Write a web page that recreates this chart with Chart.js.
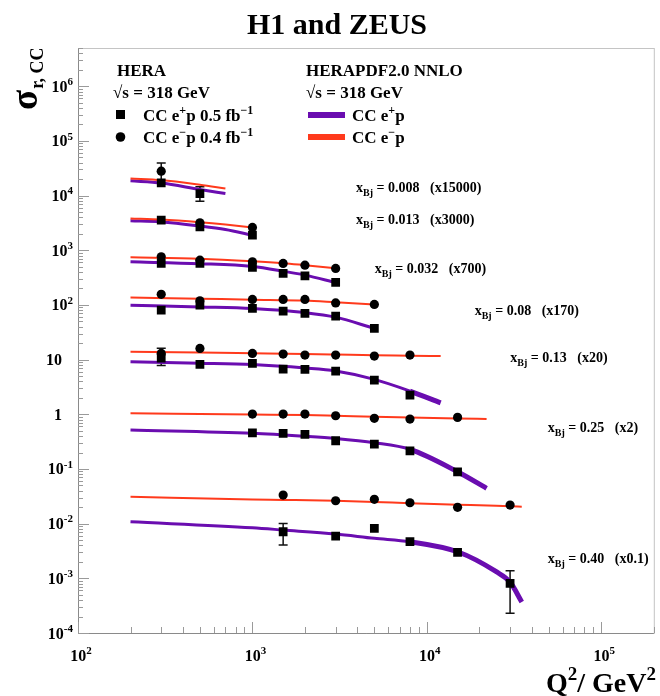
<!DOCTYPE html>
<html>
<head>
<meta charset="utf-8">
<script src="https://cdn.jsdelivr.net/npm/chart.js@4.4.1/dist/chart.umd.min.js"></script>
<style>
  html, body { margin: 0; padding: 0; background: #fff; }
  #wrap { width: 660px; height: 696px; }
</style>
</head>
<body>
<div id="wrap"><canvas id="chart" width="660" height="696"></canvas></div>
<script>
// plotted values already carry the (xN) factor of each row
const xbjLabels = ['0.008', '0.013', '0.032', '0.08', '0.13', '0.25', '0.40'];
const scaleLabels = ['15000', '3000', '700', '170', '20', '2', '0.1'];
// where the x_Bj text sits (Q2, sigma)
const labelQ2 = [3930, 3930, 5030, 18800, 30100, 49400, 49400];
const labelSigma = [14250, 3700, 471, 80.4, 11.1, 0.583, 0.00235];

// HERA CC e+p, squares
const epQ2 = [
  [300, 500],
  [300, 500, 1000],
  [300, 500, 1000, 1500, 2000, 3000],
  [300, 500, 1000, 1500, 2000, 3000, 5000],
  [300, 500, 1000, 1500, 2000, 3000, 5000, 8000],
  [1000, 1500, 2000, 3000, 5000, 8000, 15000],
  [1500, 3000, 5000, 8000, 15000, 30000]
];
const epSigma = [
  [17100, 10900],
  [3550, 2680, 1890],
  [574, 574, 485, 377, 340, 258],
  [80.3, 99.1, 86.3, 77.1, 70.0, 62.4, 37.2],
  [10.6, 8.17, 8.53, 6.70, 6.62, 6.17, 4.22, 2.24],
  [0.459, 0.448, 0.429, 0.328, 0.285, 0.215, 0.0889],
  [0.00711, 0.00593, 0.0082, 0.00467, 0.00299, 0.000811]
];

// HERA CC e-p, circles
const emQ2 = [
  [300],
  [500, 1000],
  [300, 500, 1000, 1500, 2000, 3000],
  [300, 500, 1000, 1500, 2000, 3000, 5000],
  [300, 500, 1000, 1500, 2000, 3000, 5000, 8000],
  [1000, 1500, 2000, 3000, 5000, 8000, 15000],
  [1500, 3000, 5000, 8000, 15000, 30000]
];
const emSigma = [
  [27900],
  [3170, 2610],
  [757, 659, 614, 574, 534, 465],
  [156, 119, 126, 126, 126, 109, 102],
  [13.0, 16.0, 13.0, 12.6, 12.1, 12.1, 11.6, 12.1],
  [1.01, 1.01, 1.01, 0.94, 0.842, 0.817, 0.878],
  [0.0333, 0.0262, 0.0278, 0.0241, 0.0199, 0.0219]
];

// the visible error bars
const errQ2 = [300, 500, 300, 1500, 30000];
const errLow = [17000, 7900, 7.8, 0.00406, 0.000229];
const errHigh = [39600, 14500, 16.1, 0.0101, 0.00138];

// HERAPDF2.0 NNLO curves
const fitQ2 = [
  [200, 300, 500, 700],
  [200, 300, 500, 700, 1000],
  [200, 500, 1000, 1500, 2000, 3000],
  [200, 500, 1000, 2000, 3000, 5000],
  [200, 500, 1000, 2000, 3000, 5000, 8000, 12000],
  [200, 1000, 2000, 3000, 5000, 8000, 15000, 22000],
  [200, 1000, 1500, 3000, 5000, 8000, 15000, 25000, 30000, 35000]
];
const fitEp = [
  [18600, 17000, 12900, 10900],
  [3450, 3300, 2780, 2400, 1890],
  [614, 568, 505, 415, 351, 258],
  [99, 92, 86, 72.4, 59.8, 37.2],
  [9.12, 8.6, 8.1, 7.0, 6.17, 4.35, 2.66, 1.62],
  [0.514, 0.448, 0.395, 0.36, 0.301, 0.228, 0.0889, 0.0442],
  [0.01083, 0.0084, 0.00764, 0.00645, 0.00539, 0.00467, 0.00306, 0.00132, 0.00085, 0.00037]
];
const fitEm = [
  [20600, 19200, 15800, 13500],
  [3810, 3640, 3250, 2950, 2610],
  [741, 702, 631, 580, 533, 471],
  [137, 130, 125, 120, 112, 102],
  [13.9, 13.5, 13.1, 12.7, 12.4, 12.0, 11.8, 11.6],
  [1.04, 0.99, 0.97, 0.94, 0.90, 0.87, 0.84, 0.817],
  [0.031, 0.0277, 0.0272, 0.0262, 0.0250, 0.0235, 0.0222, 0.0212, 0.0208, 0.0204]
];

const xTickExp = [2, 3, 4, 5];
const yTickExp = [-4, -3, -2, -1, 0, 1, 2, 3, 4, 5, 6];

const PURPLE = '#6a0db0';
const RED = '#ff3a1c';
const SERIF = '"Liberation Serif", "DejaVu Serif", serif';

function font(px) {
  return `bold ${px}px ${SERIF}`;
}

function pts(xs, ys) {
  return xs.map((x, i) => ({ x, y: ys[i] }));
}

// text with super/subscripts: parts = [[text, kind]], kind 1 = sup, -1 = sub
function drawRich(ctx, x, y, parts, size, align) {
  const small = Math.round(size * 0.68);
  const widths = parts.map(([t, k]) => {
    ctx.font = font(k ? small : size);
    return ctx.measureText(t).width;
  });
  const total = widths.reduce((a, b) => a + b, 0);
  let cx = align === 'right' ? x - total : align === 'center' ? x - total / 2 : x;
  ctx.textAlign = 'left';
  ctx.textBaseline = 'alphabetic';
  parts.forEach(([t, k], i) => {
    ctx.font = font(k ? small : size);
    const dy = k === 1 ? -size * 0.42 : k === -1 ? size * 0.3 : 0;
    ctx.fillText(t, cx, y + dy);
    cx += widths[i];
  });
}

const datasets = [];
for (let r = 0; r < xbjLabels.length; r++) {
  datasets.push({
    label: 'e+p ' + xbjLabels[r],
    data: pts(epQ2[r], epSigma[r]),
    pointStyle: 'rect',
    pointRadius: 6.2,
    backgroundColor: '#000',
    borderColor: '#000',
    borderWidth: 0,
    showLine: false,
    order: 0
  });
  datasets.push({
    label: 'e-p ' + xbjLabels[r],
    data: pts(emQ2[r], emSigma[r]),
    pointStyle: 'circle',
    pointRadius: 4.6,
    backgroundColor: '#000',
    borderColor: '#000',
    borderWidth: 0,
    showLine: false,
    order: 0
  });
  datasets.push({
    label: 'fit e+p ' + xbjLabels[r],
    data: pts(fitQ2[r], fitEp[r]),
    showLine: true,
    pointRadius: 0,
    borderColor: PURPLE,
    borderWidth: 3,
    cubicInterpolationMode: 'monotone',
    segment: {
      borderWidth: ctx => (r >= 4 && fitQ2[r][ctx.p1DataIndex] > 9000) ? 5 : 3
    },
    order: 2
  });
  datasets.push({
    label: 'fit e-p ' + xbjLabels[r],
    data: pts(fitQ2[r], fitEm[r]),
    showLine: true,
    pointRadius: 0,
    borderColor: RED,
    borderWidth: 2,
    cubicInterpolationMode: 'monotone',
    order: 1
  });
}

const decorPlugin = {
  id: 'decor',
  beforeDatasetsDraw(chart) {
    const { ctx, scales: { x, y } } = chart;
    ctx.save();
    ctx.strokeStyle = '#111';
    ctx.lineWidth = 1.5;
    errQ2.forEach((q, i) => {
      const px = x.getPixelForValue(q);
      const top = y.getPixelForValue(errHigh[i]);
      const bot = y.getPixelForValue(errLow[i]);
      ctx.beginPath();
      ctx.moveTo(px, top); ctx.lineTo(px, bot);
      ctx.moveTo(px - 4.5, top); ctx.lineTo(px + 4.5, top);
      ctx.moveTo(px - 4.5, bot); ctx.lineTo(px + 4.5, bot);
      ctx.stroke();
    });
    ctx.restore();
  },
  afterDraw(chart) {
    const { ctx, chartArea: ca, scales: { x, y } } = chart;
    ctx.save();
    ctx.fillStyle = '#000';

    // frame
    ctx.lineWidth = 1;
    ctx.strokeStyle = '#c4c4c4';
    ctx.strokeRect(ca.left + 0.5, ca.top + 0.5, ca.width, ca.height);
    ctx.strokeStyle = '#8a8a8a';
    ctx.beginPath();
    ctx.moveTo(ca.left + 0.5, ca.top); ctx.lineTo(ca.left + 0.5, ca.bottom + 0.5);
    ctx.lineTo(ca.right, ca.bottom + 0.5);
    ctx.stroke();

    // ticks, inside the frame
    ctx.strokeStyle = '#9a9a9a';
    ctx.beginPath();
    for (let e = 2; e <= 5; e++) {
      for (let m = 1; m <= 9; m++) {
        const v = m * Math.pow(10, e);
        if (v > x.max) break;
        const px = Math.round(x.getPixelForValue(v)) + 0.5;
        const len = m === 1 ? 11 : 6;
        ctx.moveTo(px, ca.bottom); ctx.lineTo(px, ca.bottom - len);
      }
    }
    for (let e = -4; e <= 6; e++) {
      for (let m = 1; m <= 9; m++) {
        const v = m * Math.pow(10, e);
        if (v > y.max) break;
        const py = Math.round(y.getPixelForValue(v)) + 0.5;
        const len = m === 1 ? 11 : 5;
        ctx.moveTo(ca.left, py); ctx.lineTo(ca.left + len, py);
      }
    }
    ctx.stroke();

    // tick labels
    xTickExp.forEach(e => {
      const px = x.getPixelForValue(Math.pow(10, e));
      drawRich(ctx, px + 3, ca.bottom + 28, [['10', 0], [String(e), 1]], 16, 'center');
    });
    yTickExp.forEach(e => {
      const py = y.getPixelForValue(Math.pow(10, e)) + 5.5;
      if (e === 0) drawRich(ctx, ca.left - 16, py, [['1', 0]], 16, 'right');
      else if (e === 1) drawRich(ctx, ca.left - 16, py, [['10', 0]], 16, 'right');
      else drawRich(ctx, ca.left - 5, py, [['10', 0], [e < 0 ? '-' + (-e) : String(e), 1]], 16, 'right');
    });

    // x_Bj labels
    xbjLabels.forEach((lab, i) => {
      const px = x.getPixelForValue(labelQ2[i]);
      const py = y.getPixelForValue(labelSigma[i]) + 4.5;
      drawRich(ctx, px, py, [['x', 0], ['Bj', -1], [' = ' + lab + '   (x' + scaleLabels[i] + ')', 0]], 14, 'left');
    });

    // legend, left block
    drawRich(ctx, 117, 76, [['HERA', 0]], 17, 'left');
    drawRich(ctx, 113, 98, [['\u221As = 318 GeV', 0]], 17, 'left');
    ctx.fillRect(116, 110, 9, 9);
    drawRich(ctx, 143, 121, [['CC e', 0], ['+', 1], ['p 0.5 fb', 0], ['\u22121', 1]], 17, 'left');
    ctx.beginPath(); ctx.arc(120.5, 137, 4.8, 0, Math.PI * 2); ctx.fill();
    drawRich(ctx, 143, 143, [['CC e', 0], ['\u2212', 1], ['p 0.4 fb', 0], ['\u22121', 1]], 17, 'left');

    // legend, right block
    drawRich(ctx, 306, 76, [['HERAPDF2.0 NNLO', 0]], 17, 'left');
    drawRich(ctx, 306, 98, [['\u221As = 318 GeV', 0]], 17, 'left');
    ctx.fillStyle = PURPLE; ctx.fillRect(308, 112, 37, 6);
    ctx.fillStyle = RED; ctx.fillRect(308, 134, 37, 6);
    ctx.fillStyle = '#000';
    drawRich(ctx, 352, 121, [['CC e', 0], ['+', 1], ['p', 0]], 17, 'left');
    drawRich(ctx, 352, 143, [['CC e', 0], ['\u2212', 1], ['p', 0]], 17, 'left');

    // titles
    ctx.font = font(30);
    ctx.textAlign = 'center';
    ctx.fillText('H1 and ZEUS', 337, 34);
    drawRich(ctx, 656, 692, [['Q', 0], ['2', 1], ['/ GeV', 0], ['2', 1]], 28, 'right');

    ctx.translate(37, 110);
    ctx.rotate(-Math.PI / 2);
    ctx.font = `bold 37px ${SERIF}`;
    ctx.textAlign = 'left';
    ctx.fillText('\u03C3', 0, 0);
    const sw = ctx.measureText('\u03C3').width;
    ctx.font = `bold 18px ${SERIF}`;
    ctx.fillText('r, CC', sw + 1, 6);
    ctx.restore();
  }
};

new Chart(document.getElementById('chart'), {
  type: 'scatter',
  data: { datasets },
  options: {
    responsive: false,
    animation: false,
    devicePixelRatio: 1,
    layout: { padding: { left: 78, right: 2, top: 48, bottom: 63 } },
    plugins: { legend: { display: false }, tooltip: { enabled: false }, title: { display: false } },
    scales: {
      x: { type: 'logarithmic', min: 100, max: 200000, display: false },
      y: { type: 'logarithmic', min: 1e-4, max: 5e6, display: false }
    }
  },
  plugins: [decorPlugin]
});
</script>
</body>
</html>
